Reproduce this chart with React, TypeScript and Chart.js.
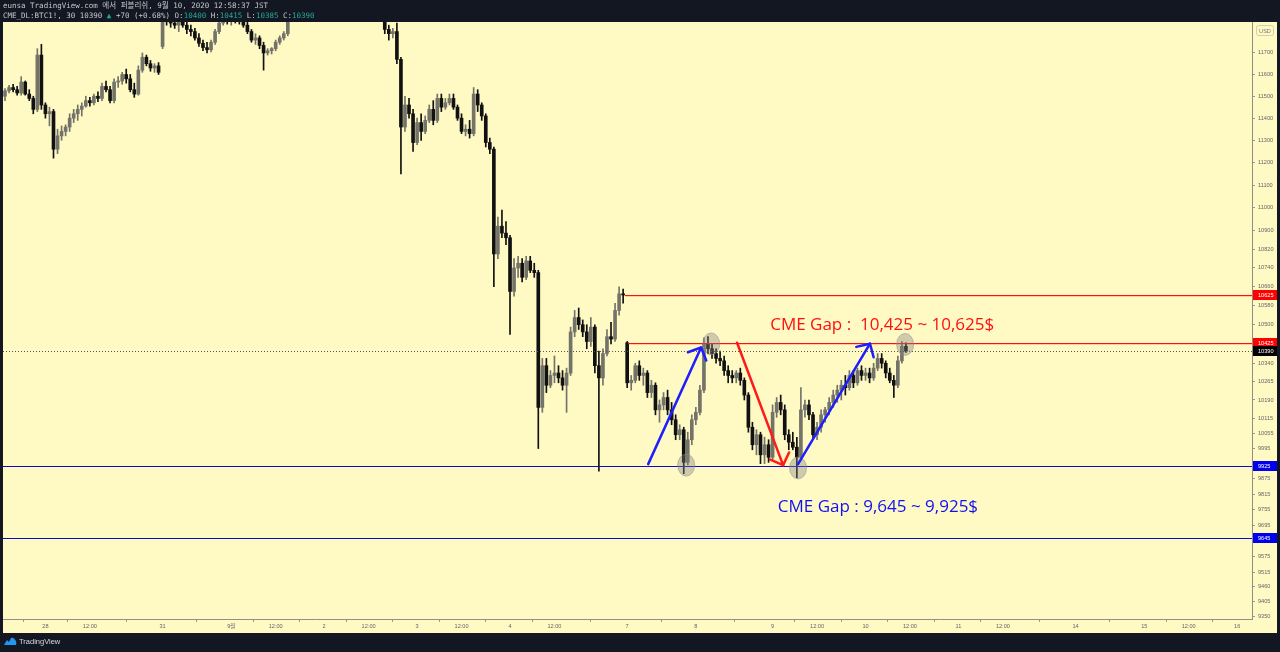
import React, { useEffect, useRef } from 'react';
import { Chart, registerables } from 'chart.js';
Chart.register(...registerables);

// Hourly OHLC candles (index = trading hour from Aug 27 evening JST)
const OPEN = [
  11500,11525,11540,11530,11515,11565,11510,11490,11440,11690,
  11460,11420,11430,11260,11320,11340,11360,11400,11420,11440,
  11455,11480,11470,11500,11490,11545,11530,11480,11565,11570,
  11600,11580,11530,11510,11620,11680,11650,11630,11640,11730,
  11860,11850,11840,11830,11845,11830,11810,11800,11770,11745,
  11725,11715,11750,11800,11840,11860,11850,11870,11860,11850,
  11830,11800,11760,11770,11735,11700,11710,11720,11750,11770,
  11790,11870,11920,11950,11970,11990,12000,11980,11960,11970,
  11950,11920,11940,11960,11950,11930,11920,11940,11950,11935,
  11920,11910,11900,11890,11880,11810,11790,11800,11670,11360,
  11460,11420,11290,11380,11340,11390,11440,11390,11490,11450,
  11470,11490,11450,11400,11340,11350,11330,11510,11460,11410,
  11290,11260,10800,10920,10890,10870,10640,10740,10760,10700,
  10770,10730,10720,10160,10330,10250,10290,10300,10280,10250,
  10300,10470,10530,10500,10470,10430,10490,10330,10280,10380,
  10450,10440,10560,10630,10425,10260,10270,10330,10290,10300,
  10220,10250,10150,10170,10200,10150,10110,10050,10070,9940,
  10030,10110,10140,10230,10420,10400,10380,10360,10350,10310,
  10290,10280,10300,10270,10210,10080,10010,10050,9970,10010,
  9960,10140,10180,10150,10050,10020,10000,9960,10150,10170,
  10130,10050,10080,10130,10150,10180,10210,10230,10250,10240,
  10290,10260,10310,10290,10300,10280,10320,10360,10340,10300,
  10270,10250,10350,10410,
];
const HIGH = [
  11535,11550,11555,11545,11590,11570,11530,11500,11720,11740,
  11470,11450,11440,11350,11365,11370,11420,11440,11460,11470,
  11500,11495,11510,11520,11560,11570,11545,11580,11590,11610,
  11625,11600,11560,11640,11700,11690,11665,11650,11655,11880,
  11890,11890,11870,11860,11870,11850,11830,11815,11790,11760,
  11750,11760,11810,11850,11880,11890,11880,11900,11890,11870,
  11850,11810,11790,11780,11750,11720,11725,11760,11780,11800,
  11880,11930,11960,11990,12010,12030,12020,12000,11990,12000,
  11970,11950,11980,11990,11970,11960,11950,11970,11980,11960,
  11945,11930,11920,11910,11900,11830,11815,11840,11680,11500,
  11490,11440,11400,11420,11410,11460,11480,11510,11510,11490,
  11510,11510,11460,11420,11370,11390,11540,11530,11470,11420,
  11310,11270,10960,10990,10940,10880,10780,10790,10780,10790,
  10790,10760,10730,10360,10360,10310,10370,10330,10310,10320,
  10490,10560,10570,10520,10500,10530,10500,10390,10400,10480,
  10510,10590,10660,10650,10430,10290,10340,10350,10320,10310,
  10270,10260,10190,10220,10230,10180,10130,10090,10080,10060,
  10130,10160,10250,10445,10450,10420,10400,10390,10370,10330,
  10310,10310,10320,10280,10220,10100,10070,10060,10040,10030,
  10170,10200,10210,10170,10070,10060,10040,10240,10190,10190,
  10140,10100,10150,10160,10200,10230,10250,10270,10290,10310,
  10310,10320,10330,10320,10320,10340,10380,10380,10350,10320,
  10290,10370,10430,10425,
];
const LOW = [
  11480,11515,11520,11505,11505,11505,11480,11420,11430,11440,
  11400,11365,11220,11240,11300,11320,11340,11380,11390,11410,
  11450,11455,11460,11475,11480,11520,11470,11470,11540,11555,
  11560,11520,11495,11505,11610,11640,11615,11610,11600,11720,
  11830,11820,11815,11800,11820,11790,11780,11760,11730,11710,
  11700,11705,11740,11790,11830,11835,11830,11840,11835,11820,
  11790,11750,11740,11720,11620,11690,11695,11710,11740,11760,
  11780,11860,11900,11930,11950,11970,11960,11940,11930,11930,
  11900,11890,11920,11930,11910,11900,11890,11920,11920,11905,
  11890,11880,11870,11860,11790,11760,11770,11650,11150,11340,
  11400,11250,11280,11300,11330,11380,11370,11380,11430,11440,
  11460,11440,11390,11330,11320,11310,11320,11430,11390,11270,
  11240,10660,10780,10870,10840,10460,10620,10700,10680,10690,
  10720,10700,9995,10140,10220,10240,10260,10260,10230,10140,
  10290,10450,10480,10450,10400,10410,10300,9905,10250,10370,
  10420,10430,10540,10590,10240,10230,10260,10270,10250,10200,
  10200,10130,10100,10150,10130,10090,10030,10030,9895,9930,
  10010,10090,10130,10220,10380,10360,10340,10330,10290,10260,
  10260,10260,10250,10190,10060,9990,9970,9935,9935,9940,
  9950,10120,10130,10030,9990,9990,9880,9950,10120,10110,
  10030,10030,10060,10100,10130,10160,10180,10190,10210,10230,
  10240,10250,10270,10270,10260,10270,10310,10320,10280,10260,
  10200,10240,10340,10385,
];
const CLOSE = [
  11525,11540,11530,11515,11565,11510,11490,11440,11690,11460,
  11420,11430,11260,11320,11340,11360,11400,11420,11440,11455,
  11480,11470,11500,11490,11545,11530,11480,11565,11570,11600,
  11580,11530,11510,11620,11680,11650,11630,11640,11610,11860,
  11850,11840,11830,11845,11830,11810,11800,11770,11745,11725,
  11715,11750,11800,11840,11860,11850,11870,11860,11850,11830,
  11800,11760,11770,11735,11700,11710,11720,11750,11770,11790,
  11870,11920,11950,11970,11990,12000,11980,11960,11970,11950,
  11920,11940,11960,11950,11930,11920,11940,11950,11935,11920,
  11910,11900,11890,11880,11810,11790,11800,11670,11360,11460,
  11420,11290,11380,11340,11390,11440,11390,11490,11450,11470,
  11490,11450,11400,11340,11350,11330,11510,11460,11410,11290,
  11260,10800,10920,10890,10870,10640,10740,10760,10700,10770,
  10730,10720,10160,10330,10250,10290,10300,10280,10250,10300,
  10470,10530,10500,10470,10430,10490,10330,10280,10380,10450,
  10440,10560,10630,10625,10260,10270,10330,10290,10300,10220,
  10250,10150,10170,10200,10150,10110,10050,10070,9940,10030,
  10110,10140,10230,10420,10400,10380,10360,10350,10310,10290,
  10280,10300,10270,10210,10080,10010,10050,9970,10010,9960,
  10140,10180,10150,10050,10020,10000,9960,10150,10170,10130,
  10050,10080,10130,10150,10180,10210,10230,10250,10240,10290,
  10260,10310,10290,10300,10280,10320,10360,10340,10300,10270,
  10250,10350,10410,10390,
];

const Y_TICKS = [11700, 11600, 11500, 11400, 11300, 11200, 11100, 11000, 10900, 10820, 10740, 10660, 10580, 10500, 10340, 10265, 10190, 10115, 10055, 9995, 9875, 9815, 9755, 9695, 9575, 9515, 9460, 9405, 9350];
const X_TICK_POS = [10, 21, 39, 56, 67, 79, 90, 102, 113, 125, 136, 154, 171, 190, 201, 213, 224, 236, 247, 265, 282, 293, 305];
const X_TICK_LABELS = ['28', '12:00', '31', '9월', '12:00', '2', '12:00', '3', '12:00', '4', '12:00', '7', '8', '9', '12:00', '10', '12:00', '11', '12:00', '14', '15', '12:00', '16'];

const GAP_HIGH = 10625;
const GAP_LOW = 10425;
const GAP2_HIGH = 9925;
const GAP2_LOW = 9645;
const LAST_PRICE = 10390;
const GAP_LINE_START = [153.5, 154.1];
const BLUE_ARROWS = [[159.2, 9933, 172.3, 10405], [196.3, 9933, 214.1, 10421]];
const RED_ARROW = [181.2, 10425, 192.6, 9929];
const TOUCH_MARKS = [[168.6, 9929], [174.8, 10420], [196.3, 9918], [222.8, 10418]];
const RED_TEXT = 'CME Gap :  10,425 ~ 10,625$';
const BLUE_TEXT = 'CME Gap : 9,645 ~ 9,925$';
const RED_TEXT_POS = [189.4, 10500];
const BLUE_TEXT_POS = [191.3, 9765];

const X_MIN = -0.5;
const X_MAX = 308.66;
const Y_MIN = 9339;
const Y_MAX = 11845;

const UP = '#74736a';
const DOWN = '#111111';
const BG = '#fff9c4';
const DARK = '#131722';
const RED = '#ff1010';
const BLUE = '#1010f2';
const AX_FONT = '"Liberation Sans", "Noto Sans CJK KR", sans-serif';

function arrow(ctx: CanvasRenderingContext2D, x1: number, y1: number, x2: number, y2: number, color: string) {
  ctx.strokeStyle = color;
  ctx.lineWidth = 2.5;
  ctx.lineCap = 'round';
  ctx.lineJoin = 'round';
  ctx.beginPath();
  ctx.moveTo(x1, y1);
  ctx.lineTo(x2, y2);
  ctx.stroke();
  const a = Math.atan2(y1 - y2, x1 - x2);
  const L = 14;
  const s = 0.8;
  ctx.beginPath();
  ctx.moveTo(x2 + L * Math.cos(a + s), y2 + L * Math.sin(a + s));
  ctx.lineTo(x2, y2);
  ctx.lineTo(x2 + L * Math.cos(a - s), y2 + L * Math.sin(a - s));
  ctx.stroke();
}

const framePlugin = {
  id: 'frame',
  beforeDraw(chart: any) {
    const ctx = chart.ctx;
    ctx.save();
    ctx.fillStyle = DARK;
    ctx.fillRect(0, 0, chart.width, chart.height);
    ctx.fillStyle = BG;
    ctx.fillRect(3, 22, 1274, 611);
    ctx.restore();
  },
  afterDatasetsDraw(chart: any) {
    const { ctx, chartArea: ca } = chart;
    const x = chart.scales.x;
    const y = chart.scales.y;
    const ry = (v: number) => Math.round(y.getPixelForValue(v));
    ctx.save();
    ctx.beginPath();
    ctx.rect(ca.left, ca.top, ca.right - ca.left, ca.bottom - ca.top);
    ctx.clip();

    // last price dotted line
    ctx.fillStyle = '#555555';
    for (let px = ca.left; px < ca.right; px += 3) {
      ctx.fillRect(px, ry(LAST_PRICE), 1, 1);
    }

    // CME gap lines (1px solid)
    ctx.fillStyle = RED;
    const s0 = Math.round(x.getPixelForValue(GAP_LINE_START[0]));
    const s1 = Math.round(x.getPixelForValue(GAP_LINE_START[1]));
    ctx.fillRect(s0, ry(GAP_HIGH), ca.right - s0, 1.2);
    ctx.fillRect(s1, ry(GAP_LOW), ca.right - s1, 1.2);
    ctx.fillStyle = '#0a0ad0';
    ctx.fillRect(ca.left, ry(GAP2_HIGH), ca.right - ca.left, 1);
    ctx.fillRect(ca.left, ry(GAP2_LOW), ca.right - ca.left, 1);

    // touch marks
    for (const [mx, my] of TOUCH_MARKS) {
      ctx.fillStyle = 'rgba(128,128,128,0.38)';
      ctx.strokeStyle = 'rgba(140,140,140,0.5)';
      ctx.lineWidth = 1;
      ctx.beginPath();
      ctx.ellipse(x.getPixelForValue(mx), y.getPixelForValue(my), 8.5, 11, 0, 0, Math.PI * 2);
      ctx.fill();
      ctx.stroke();
    }

    // arrows
    for (const [a, b, c, d] of BLUE_ARROWS) {
      arrow(ctx, x.getPixelForValue(a), y.getPixelForValue(b), x.getPixelForValue(c), y.getPixelForValue(d), '#1e1eff');
    }
    arrow(ctx, x.getPixelForValue(RED_ARROW[0]), y.getPixelForValue(RED_ARROW[1]), x.getPixelForValue(RED_ARROW[2]), y.getPixelForValue(RED_ARROW[3]), '#ff1a1a');

    // texts
    ctx.font = '17px "Open Sans", "Liberation Sans", sans-serif';
    ctx.textBaseline = 'middle';
    ctx.textAlign = 'left';
    ctx.fillStyle = RED;
    ctx.fillText(RED_TEXT, x.getPixelForValue(RED_TEXT_POS[0]), y.getPixelForValue(RED_TEXT_POS[1]));
    ctx.fillStyle = BLUE;
    ctx.fillText(BLUE_TEXT, x.getPixelForValue(BLUE_TEXT_POS[0]), y.getPixelForValue(BLUE_TEXT_POS[1]));
    ctx.restore();
  },
  afterDraw(chart: any) {
    const { ctx, chartArea: ca } = chart;
    const y = chart.scales.y;
    ctx.save();
    const badge = (v: number, bg: string) => {
      const cy = Math.round(y.getPixelForValue(v));
      ctx.fillStyle = bg;
      ctx.fillRect(ca.right + 1, cy - 5, 24, 10);
      ctx.fillStyle = '#ffffff';
      ctx.font = `5.6px ${AX_FONT}`;
      ctx.textBaseline = 'middle';
      ctx.textAlign = 'left';
      ctx.fillText(String(v), ca.right + 6, cy + 0.5);
    };
    badge(GAP_HIGH, '#ff0000');
    badge(GAP_LOW, '#ff0000');
    badge(LAST_PRICE, '#000000');
    badge(GAP2_HIGH, '#0000ee');
    badge(GAP2_LOW, '#0000ee');
    // USD box
    ctx.strokeStyle = '#d2cfb0';
    ctx.fillStyle = BG;
    ctx.lineWidth = 1;
    ctx.beginPath();
    ctx.roundRect(ca.right + 4.5, 25.5, 17, 10, 2);
    ctx.fill();
    ctx.stroke();
    ctx.fillStyle = '#777';
    ctx.font = `5.6px ${AX_FONT}`;
    ctx.textAlign = 'center';
    ctx.textBaseline = 'middle';
    ctx.fillText('USD', ca.right + 13, 31);
    ctx.restore();
  },
};

export default function App() {
  const ref = useRef<HTMLCanvasElement>(null);
  useEffect(() => {
    const upDown = OPEN.map((o, i) => (CLOSE[i] >= o ? UP : DOWN));
    const chart = new Chart(ref.current as HTMLCanvasElement, {
      type: 'bar',
      data: {
        datasets: [
          {
            data: OPEN.map((o, i) => ({ x: i, y: [o, CLOSE[i]] })) as any,
            backgroundColor: upDown,
            borderWidth: 0,
            barThickness: 3,
            minBarLength: 1,
            grouped: false,
            clip: 0,
            order: 0,
          } as any,
          {
            data: OPEN.map((_, i) => ({ x: i, y: [LOW[i], HIGH[i]] })) as any,
            backgroundColor: upDown,
            borderWidth: 0,
            barThickness: 1,
            grouped: false,
            clip: 0,
            order: 1,
          } as any,
        ],
      },
      options: {
        animation: false,
        responsive: false,
        devicePixelRatio: 1,
        events: [],
        layout: { padding: { left: 3, top: 22, right: 0, bottom: 0 } },
        plugins: { legend: { display: false }, tooltip: { enabled: false } },
        scales: {
          x: {
            type: 'linear',
            min: X_MIN,
            max: X_MAX,
            offset: false,
            bounds: 'data',
            afterBuildTicks: (s: any) => {
              s.ticks = X_TICK_POS.map((v) => ({ value: v }));
            },
            afterFit: (s: any) => {
              s.height = 33;
            },
            grid: { display: true, drawOnChartArea: false, tickLength: 3, color: '#9a9a90' },
            border: { display: true, color: '#8f8f88' },
            ticks: {
              autoSkip: false,
              maxRotation: 0,
              padding: 1,
              color: '#666666',
              font: { family: AX_FONT, size: 5.6 },
              callback: (_v: any, idx: number) => X_TICK_LABELS[idx],
            },
          } as any,
          y: {
            type: 'logarithmic',
            position: 'right',
            min: Y_MIN,
            max: Y_MAX,
            bounds: 'data',
            afterBuildTicks: (s: any) => {
              s.ticks = Y_TICKS.map((v) => ({ value: v }));
            },
            afterFit: (s: any) => {
              s.width = 28;
            },
            grid: { display: true, drawOnChartArea: false, tickLength: 3, color: '#9a9a90' },
            border: { display: true, color: '#8f8f88' },
            ticks: {
              autoSkip: false,
              padding: 3,
              color: '#666666',
              font: { family: AX_FONT, size: 5.6 },
              callback: (v: any) => String(v),
            },
          } as any,
        },
      },
      plugins: [framePlugin],
    });
    return () => chart.destroy();
  }, []);

  const teal = '#26a69a';
  return (
    <div style={{ position: 'fixed', left: 0, top: 0, width: 1280, height: 652, background: DARK, overflow: 'hidden' }}>
      <canvas ref={ref} width={1280} height={652} style={{ position: 'absolute', left: 0, top: 0, width: 1280, height: 652 }} />
      <div
        style={{
          position: 'absolute',
          left: 3,
          top: 1,
          font: '7.5px "DejaVu Sans Mono", "Noto Sans CJK KR", monospace',
          lineHeight: '9.5px',
          color: '#c4c6cc',
          whiteSpace: 'pre',
        }}
      >
        <div>eunsa TradingView.com 에서 퍼블리쉬, 9월 10, 2020 12:58:37 JST</div>
        <div>
          CME_DL:BTC1!, 30 10390 <span style={{ color: teal }}>▲</span> +70 (+0.68%) O:<span style={{ color: teal }}>10400</span> H:<span style={{ color: teal }}>10415</span> L:<span style={{ color: teal }}>10385</span> C:<span style={{ color: teal }}>10390</span>
        </div>
      </div>
      <div style={{ position: 'absolute', left: 3, top: 636, display: 'flex', alignItems: 'center', gap: 2 }}>
        <svg width="14" height="10" viewBox="0 0 14 10">
          <path d="M1 9 L4 4 L6 6 L8 2 Q11 1 12 4 Q14 5 13 9 Z" fill="#2196f3" />
        </svg>
        <span style={{ font: '7.5px "Liberation Sans", sans-serif', color: '#d8dae0' }}>TradingView</span>
      </div>
    </div>
  );
}
